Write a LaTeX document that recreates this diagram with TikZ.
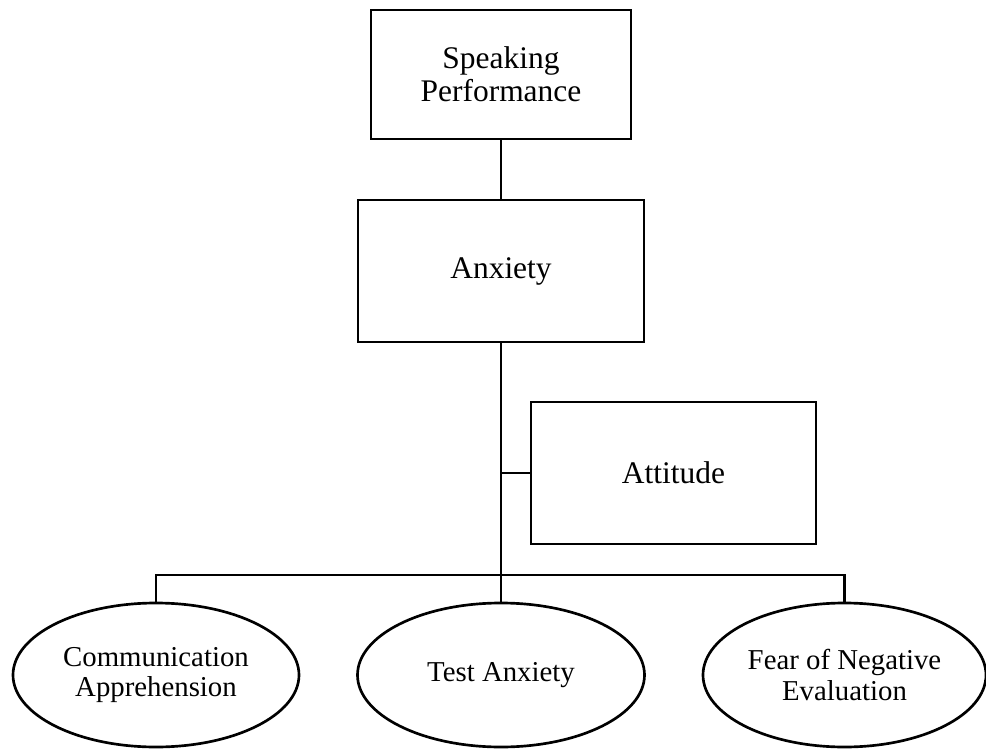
\documentclass[tikz,border=0pt]{standalone}
\usepackage{fontspec}
\setmainfont{Liberation Serif}
\usetikzlibrary{shapes.geometric}
\tikzset{
  boxnode/.style={draw, line width=2pt, rectangle, align=center, inner sep=0pt,
    font=\fontsize{23.6pt}{25pt}\selectfont},
  ovalnode/.style={draw, line width=2pt, ellipse, align=center, inner sep=0pt,
    font=\fontsize{21.6pt}{22.6pt}\selectfont},
  link/.style={line width=2pt}
}
\begin{document}
\begin{tikzpicture}[x=0.75pt, y=-0.75pt]
\useasboundingbox (0,0) rectangle (986,749);
\node[boxnode, minimum width=195pt, minimum height=96.75pt] (sp) at (501,74.5) {Speaking\\Performance};
\node[boxnode, minimum width=214.5pt, minimum height=106.5pt] (anx) at (501,271) {Anxiety};
\node[boxnode, minimum width=213.75pt, minimum height=106.5pt] (att) at (673.5,473) {Attitude};
\node[ovalnode, minimum width=214.5pt, minimum height=108pt] (ca) at (156,675) {Communication\\Apprehension};
\node[ovalnode, minimum width=215.25pt, minimum height=108pt] (ta) at (501,675) {Test Anxiety};
\node[ovalnode, minimum width=212.25pt, minimum height=108pt] (fe) at (844.5,675) {Fear of Negative\\Evaluation};
\coordinate (bus) at (501,575);
\draw[link] (sp.south) -- (anx.north);
\draw[link] (anx.south) -- (ta.north);
\draw[link] (att.west) -- (att.west -| anx.south);
\draw[link] (ca.north) -- (ca.north |- bus) -- (fe.north |- bus) -- (fe.north);
\end{tikzpicture}
\end{document}
